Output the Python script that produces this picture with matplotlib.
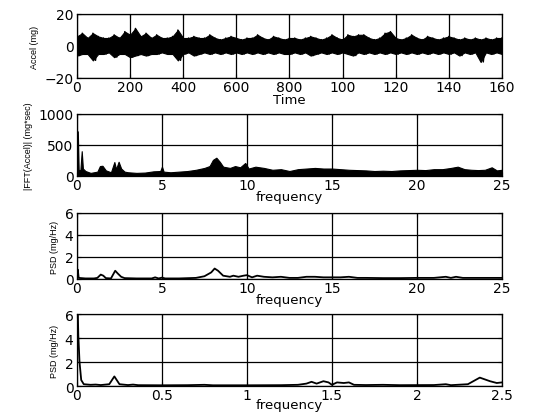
import matplotlib
matplotlib.use('Agg')
import matplotlib.pyplot as plt
import numpy as np

# accel time history envelope (sampled every 2 time units)
t = np.arange(0, 162, 2)
acc_hi = [6, 8, 5, 8, 6, 5, 5, 7, 5, 9, 7, 11, 6, 8, 5, 7, 5, 5, 6, 10, 5,
          5, 6, 5, 5, 7, 5, 4, 5, 6, 5, 4, 5, 5, 7, 5, 4, 6, 5, 4, 5,
          5, 4, 5, 6, 5, 4, 5, 7, 5, 4, 7, 6, 7, 7, 5, 4, 5, 8, 9, 5,
          4, 5, 7, 5, 4, 6, 5, 4, 5, 6, 5, 4, 5, 4, 5, 4, 5, 4, 5, 5]
acc_lo = [-6, -5, -5, -9, -5, -5, -4, -7, -5, -5, -7, -6, -5, -6, -5, -5, -4, -5, -5, -9, -5,
          -4, -6, -5, -4, -5, -4, -5, -4, -5, -4, -5, -4, -5, -4, -5, -4, -5, -4, -5, -5,
          -4, -5, -4, -6, -5, -4, -5, -4, -5, -4, -5, -6, -4, -5, -4, -5, -4, -5, -4, -5,
          -4, -5, -4, -5, -4, -5, -4, -5, -4, -5, -4, -6, -4, -5, -4, -10, -4, -5, -4, -5]
time_ticks = [0, 20, 40, 60, 80, 100, 120, 140, 160]
time_labels = ['0', '200', '400', '600', '800', '100', '120', '140', '160']

# |FFT| envelope
fft_f = [0, 0.05, 0.1, 0.2, 0.28, 0.35, 0.5, 0.8, 1.0, 1.2, 1.35, 1.5, 1.7, 2.0, 2.2, 2.3,
         2.45, 2.6, 2.8, 3.0, 3.5, 4.0, 4.5, 4.9, 5.0, 5.1, 5.5, 6.0, 6.5, 7.0, 7.5, 7.8,
         8.0, 8.2, 8.4, 8.6, 9.0, 9.3, 9.6, 9.9, 10.1, 10.5, 11.0, 11.5, 12.0, 12.5, 13.0,
         13.5, 14.0, 14.5, 15.0, 15.5, 16.0, 16.5, 17.0, 17.5, 18.0, 18.5, 19.0, 19.5, 20.0,
         20.5, 21.0, 21.5, 22.0, 22.4, 22.8, 23.2, 23.6, 24.0, 24.4, 24.7, 25.0]
fft_mag = [0, 720, 100, 90, 400, 120, 80, 50, 60, 70, 160, 165, 90, 60, 225, 110,
           230, 120, 70, 60, 50, 55, 75, 80, 150, 70, 60, 70, 80, 100, 130, 160,
           260, 295, 230, 150, 130, 160, 140, 210, 120, 150, 130, 100, 110, 80, 110,
           120, 130, 120, 120, 110, 100, 95, 90, 80, 85, 80, 90, 95, 100,
           95, 110, 110, 130, 150, 110, 100, 95, 100, 140, 90, 100]

# PSD 0-25 Hz
psd_f = [0, 0.05, 0.1, 0.5, 1.0, 1.2, 1.4, 1.55, 1.7, 2.0, 2.25, 2.4, 2.6, 2.8, 3.5, 4.4,
         4.6, 4.8, 5.0, 5.2, 6.0, 7.0, 7.5, 7.9, 8.1, 8.3, 8.6, 9.0, 9.2, 9.5, 9.8, 10.0,
         10.3, 10.6, 11.0, 11.5, 12.0, 12.5, 13.0, 13.5, 14.0, 14.5, 15.0, 15.5, 16.0,
         16.5, 17.0, 18.0, 19.0, 20.0, 21.0, 21.7, 22.0, 22.3, 22.7, 23.5, 24.5, 25.0]
psd_val = [0.1, 0.85, 0.1, 0.05, 0.05, 0.1, 0.4, 0.3, 0.08, 0.05, 0.75, 0.5, 0.2, 0.08, 0.05, 0.05,
           0.15, 0.05, 0.12, 0.05, 0.05, 0.1, 0.25, 0.6, 0.95, 0.75, 0.3, 0.2, 0.3, 0.2, 0.3, 0.35,
           0.15, 0.3, 0.2, 0.15, 0.2, 0.1, 0.1, 0.2, 0.2, 0.15, 0.15, 0.15, 0.2,
           0.1, 0.1, 0.08, 0.08, 0.1, 0.1, 0.2, 0.1, 0.2, 0.1, 0.1, 0.1, 0.1]

# PSD zoom 0-2.5 Hz
psdz_f = [0, 0.005, 0.008, 0.015, 0.025, 0.04, 0.08, 0.11, 0.14, 0.19, 0.22, 0.25, 0.3, 0.33,
          0.36, 0.5, 0.65, 0.75, 0.8, 1.0, 1.2, 1.3, 1.35, 1.38, 1.41, 1.45, 1.48, 1.5, 1.53,
          1.57, 1.6, 1.63, 1.7, 1.8, 1.9, 2.1, 2.17, 2.2, 2.3, 2.37, 2.43, 2.47, 2.5]
psdz_val = [6, 6, 4.2, 2.0, 0.5, 0.15, 0.1, 0.12, 0.08, 0.15, 0.8, 0.15, 0.08, 0.12,
            0.07, 0.06, 0.07, 0.1, 0.06, 0.06, 0.07, 0.1, 0.2, 0.35, 0.2, 0.4, 0.3, 0.1, 0.3,
            0.25, 0.3, 0.1, 0.08, 0.1, 0.07, 0.08, 0.15, 0.07, 0.15, 0.7, 0.4, 0.25, 0.3]

plt.rcParams['font.family'] = 'DejaVu Sans'
tick_fs = 10
xlab_fs = 9.5
ylab_font = dict(family='Liberation Sans', fontsize=6.5)

fig = plt.figure(figsize=(5.42, 4.14), dpi=100)


def style_axes(ax):
    ax.grid(True, color='black', linewidth=0.9)
    ax.set_axisbelow(False)
    ax.tick_params(direction='in', length=3, labelsize=tick_fs, top=True, right=True)
    ax.tick_params(axis='x', pad=1.5)
    ax.tick_params(axis='y', pad=2.5)
    for s in ax.spines.values():
        s.set_linewidth(0.9)


ax1 = fig.add_axes([0.142, 0.8092, 0.784, 0.1546])
ax1.fill_between(t, acc_lo, acc_hi, color='black', linewidth=0.8)
# zigzag between the read peaks to give the trace its jagged look
zig_t = np.ravel(np.column_stack([t, t + 1.0]))[:-1]
zig_v = np.ravel(np.column_stack([acc_hi, acc_lo]))[:-1]
ax1.plot(zig_t, zig_v, color='black', linewidth=1.0)
ax1.set_xlim(0, 160)
ax1.set_ylim(-20, 20)
ax1.set_yticks([-20, 0, 20])
ax1.set_xticks(time_ticks)
ax1.set_xticklabels(time_labels)
ax1.set_xlabel('Time', fontsize=xlab_fs, labelpad=-0.5)
ax1.set_ylabel('Accel (mg)', **ylab_font)
style_axes(ax1)

ax2 = fig.add_axes([0.142, 0.5725, 0.784, 0.1498])
ax2.fill_between(fft_f, 0, fft_mag, color='black', linewidth=0.8)
ax2.set_xlim(0, 25)
ax2.set_ylim(0, 1000)
ax2.set_yticks([0, 500, 1000])
ax2.set_xticks([0, 5, 10, 15, 20, 25])
ax2.set_xlabel('frequency', fontsize=xlab_fs, labelpad=-1.5)
ax2.set_ylabel('|FFT(Accel)| (mg*sec)', **ylab_font)
style_axes(ax2)

ax3 = fig.add_axes([0.142, 0.3237, 0.784, 0.1594])
ax3.plot(psd_f, psd_val, color='black', linewidth=1.3)
ax3.set_xlim(0, 25)
ax3.set_ylim(0, 6)
ax3.set_yticks([0, 2, 4, 6])
ax3.set_xticks([0, 5, 10, 15, 20, 25])
ax3.set_xlabel('frequency', fontsize=xlab_fs, labelpad=-1.5)
ax3.set_ylabel('PSD (mg/Hz)', **ylab_font)
style_axes(ax3)

ax4 = fig.add_axes([0.142, 0.0652, 0.784, 0.1739])
ax4.plot(psdz_f, psdz_val, color='black', linewidth=1.3)
ax4.set_xlim(0, 2.5)
ax4.set_ylim(0, 6)
ax4.set_yticks([0, 2, 4, 6])
ax4.set_xticks([0, 0.5, 1, 1.5, 2, 2.5])
ax4.set_xticklabels(['0', '0.5', '1', '1.5', '2', '2.5'])
ax4.set_xlabel('frequency', fontsize=xlab_fs, labelpad=-3)
ax4.set_ylabel('PSD (mg/Hz)', **ylab_font)
style_axes(ax4)

fig.savefig('out.png', dpi=100)
